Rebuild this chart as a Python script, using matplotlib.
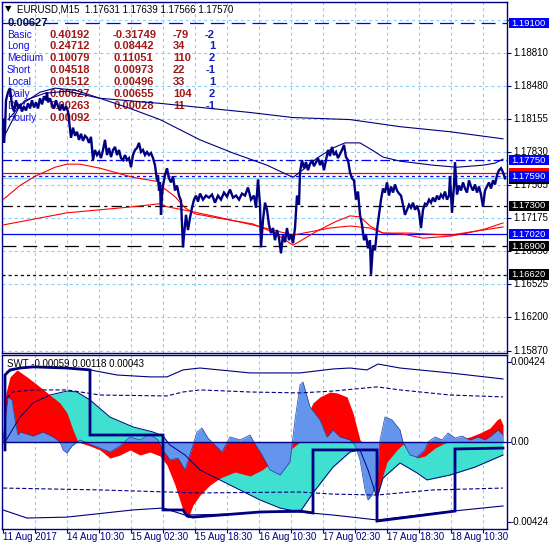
import numpy as np
import matplotlib
matplotlib.use('Agg')
import matplotlib.pyplot as plt
from matplotlib.patches import Rectangle
import matplotlib.transforms as mtransforms

plt.rcParams['font.family'] = ['Liberation Sans', 'DejaVu Sans']
plt.rcParams['lines.scale_dashes'] = False

NAVY = '#000080'
GRID = '#87CEFA'
BLUE = '#0000FF'
LABEL_BLUE = '#1010E0'
NUM_RED = '#A01818'

# ---------------- data ----------------
BASE = 1.17000  # price = BASE + pips / 10000
price_path = [(0,115),(1,92),(2,105),(3,134),(5,142),(7,146),(9,129),(11,123),(13,134),(15,126),(17,130),(19,123),
    (21,128),(23,124),(25,131),(27,126),(29,134),(31,127),(33,132),(35,126),(37,136),(39,130),(41,138),(43,134),(44,142),
    (45,132),(47,136),(49,130),(51,126),(53,134),(55,128),(57,124),(59,130),(61,124),(63,128),(65,123),(67,105),(68,97),
    (70,107),(72,99),(74,103),(76,95),(78,101),(80,94),(82,99),(84,97),(86,92),(88,98),(90,75),(92,85),(94,80),(96,83),
    (98,77),(100,85),(102,95),(104,80),(106,87),(108,78),(110,85),(112,88),(114,80),(116,85),(118,77),(120,75),(122,80),
    (124,75),(126,77),(128,68),(130,80),(132,85),(134,87),(136,92),(138,83),(140,85),(142,80),(144,83),(146,80),(148,82),
    (150,77),(152,70),(154,55),(155,60),(156,45),(157,53),(158,21),(159,40),(160,50),(162,60),(164,67),(166,57),(168,53),
    (170,59),(172,45),(174,50),(176,40),(178,35),(180,-11),(181,1),(183,21),(185,6),(187,18),(189,28),(191,36),(193,40),
    (195,34),(197,42),(200,36),(203,40),(206,38),(209,41),(212,33),(215,40),(218,36),(221,43),(224,39),(227,46),(230,38),
    (233,40),(236,36),(239,42),(242,40),(245,48),(248,36),(251,40),(253,28),(255,56),(257,31),(258,-11),(260,16),(262,33),
    (264,26),(266,11),(268,3),(270,8),(272,-4),(274,6),(276,-2),(278,-17),(280,1),(282,-6),(284,8),(286,-4),(288,2),
    (290,-7),(292,8),(294,40),(296,31),(297,63),(299,75),(301,67),(303,73),(305,65),(307,71),(309,75),(311,69),(313,73),
    (315,77),(317,70),(319,75),(321,65),(323,75),(325,85),(327,79),(329,88),(331,80),(333,83),(335,77),(337,81),(339,85),
    (341,90),(343,78),(345,75),(347,63),(349,57),(351,55),(353,36),(355,44),(357,21),(359,11),(361,-4),(363,1),(365,-12),
    (367,-4),(368,-38),(370,-9),(372,-14),(374,6),(376,21),(378,36),(380,47),(382,43),(384,53),(386,40),(388,49),(390,43),
    (392,51),(394,45),(396,42),(398,40),(400,31),(402,21),(404,26),(406,31),(408,28),(410,33),(412,26),(414,30),(416,24),
    (418,8),(420,26),(422,32),(424,31),(426,36),(428,33),(430,38),(432,34),(434,40),(436,36),(438,41),(440,38),(442,44),
    (444,36),(446,40),(447,59),(449,23),(451,50),(452,73),(454,41),(456,50),(458,45),(460,53),(462,47),(464,43),(466,55),
    (468,49),(470,45),(472,51),(474,43),(476,49),(478,41),(480,29),(482,45),(484,49),(486,53),(488,47),(490,55),(492,51),
    (494,60),(496,65),(498,67),(500,63),(502,57)]

ma_navy_slow = [(5,115),(22,134),(42,141),(64,143),(97,136),(157,131),(197,127),(247,122),(290,117),(347,115),
    (397,108),(447,103),(500,96)]
ma_navy_mid = [(2,100),(17,129),(37,142),(52,146),(72,144),(97,136),(127,126),(157,115),(197,95),(230,82),(264,70),
    (290,58),(302,67),(314,77),(330,87),(342,92),(357,92),(369,85),(380,78),(397,74),(430,70),(454,68),(480,70),
    (492,72),(500,76)]
ma_red_fast = [(0,36),(17,50),(32,59),(52,68),(64,71),(77,71),(97,67),(130,58),(154,54),(160,48),(172,39),(182,28),
    (192,22),(214,18),(250,12),(272,3),(290,-9),(302,-2),(314,5),(332,14),(347,20),(357,19),(367,10),(380,3),(400,2),
    (420,-2),(447,0),(464,3),(482,7),(500,13)]
ma_red_slow = [(0,11),(64,23),(130,29),(157,32),(164,29),(180,26),(214,19),(250,11),(290,1),(327,8),(347,10),
    (367,8),(380,3),(407,3),(447,1),(480,6),(500,9)]

price_grid = [1.15870, 1.16200, 1.16525, 1.16850, 1.17175, 1.17505, 1.17830, 1.18155, 1.18480, 1.18810, 1.19135]
grid_labels = ['1.15870', '1.16200', '1.16525', '1.16850', '1.17175', '1.17505', '1.17830', '1.18155', '1.18480',
               '1.18810', '']

# horizontal price objects: (price, colour, style)
hlines = [(1.19100, BLUE, (0, (10, 5))), (1.17750, BLUE, (0, (7, 2.2, 2.2, 2.2))), (1.17620, '#FF0000', '-'),
          (1.17590, BLUE, (0, (2.2, 2.2))), (1.17570, GRID, '-'), (1.17300, 'black', (0, (7.5, 3, 2.2, 3))),
          (1.17020, BLUE, '-'), (1.16900, 'black', (0, (10, 5))), (1.16620, 'black', (0, (2.2, 2.2)))]
# price boxes: (price, face colour, text), drawn in this order; covered boxes carry no visible text
price_boxes = [(1.19100, BLUE, '1.19100'), (1.17750, BLUE, '1.17750'), (1.17620, '#FF0000', ''),
               (1.17570, 'black', ''), (1.17590, BLUE, '1.17590'), (1.17300, 'black', '1.17300'),
               (1.17020, BLUE, '1.17020'), (1.16900, 'black', '1.16900'), (1.16620, 'black', '1.16620')]

# indicator panel, values in 1e-5
swt_slow = [(2,0),(17,132),(30,207),(47,249),(64,270),(74,265),(87,223),(107,132),(130,80),(150,53),(160,32),
    (167,-16),(182,-69),(197,-148),(227,-228),(257,-307),(277,-350),(297,-371),(310,-270),(330,-133),(347,-53),
    (357,-42),(365,-148),(374,-297),(380,-191),(397,-111),(414,-164),(424,-201),(447,-175),(472,-133),(500,-69)]
swt_fast = [(0,0),(2,239),(7,345),(14,382),(24,345),(37,292),(47,249),(57,207),(64,154),(70,64),(75,0),(87,-21),
    (97,-42),(107,-85),(117,-69),(127,-42),(137,-69),(147,-53),(157,-74),(164,-122),(172,-228),(180,-361),(185,-403),
    (190,-334),(197,-281),(207,-228),(217,-191),(232,-159),(247,-180),(259,-148),(272,-95),(287,-42),(297,0),(304,143),
    (310,207),(317,239),(327,265),(334,260),(344,239),(350,154),(357,11),(364,-27),(370,-148),(374,-307),(377,-228),
    (384,-106),(394,-42),(400,-11),(407,-53),(414,-85),(422,-74),(432,-32),(442,-5),(454,11),(467,27),(477,48),
    (487,74),(494,117),(497,127),(500,90)]
swt_hist = [(0,0),(2,117),(5,239),(9,223),(12,117),(15,37),(17,53),(24,42),(30,32),(40,53),(50,27),(57,0),(60,-42),
    (64,-58),(69,-21),(77,11),(87,-11),(97,-32),(107,-53),(117,-21),(127,27),(137,11),(147,42),(155,11),(160,-42),
    (167,-95),(175,-85),(182,-148),(189,-32),(194,53),(199,74),(205,21),(212,-16),(219,-53),(227,27),(237,11),(247,37),
    (252,-11),(259,-69),(267,-148),(277,-175),(287,-106),(292,117),(297,302),(300,318),(307,186),(317,117),(324,27),
    (330,64),(337,27),(347,11),(352,-16),(357,-95),(362,-254),(365,-307),(369,-281),(374,-201),(377,11),(382,133),
    (389,117),(397,64),(400,0),(407,-69),(414,-80),(422,-42),(425,0),(432,27),(439,11),(445,48),(452,21),(459,32),
    (467,11),(475,27),(482,11),(489,37),(495,64),(500,37)]
env_upper = [(4,371),(17,392),(30,398),(64,392),(87,382),(114,355),(147,345),(164,345),(180,382),(197,392),(247,366),
    (297,366),(330,387),(347,392),(364,382),(375,413),(397,392),(447,366),(500,334)]
env_upper_in = [(4,233),(10,265),(30,276),(64,276),(97,249),(164,244),(180,265),(197,276),(247,265),(297,260),
    (330,270),(374,292),(397,276),(447,249),(500,239)]
env_lower_in = [(0,-244),(97,-254),(197,-270),(297,-265),(330,-276),(374,-281),(430,-254),(500,-244)]
env_lower = [(0,-360),(24,-403),(64,-398),(130,-360),(160,-350),(182,-387),(230,-382),(257,-371),(297,-371),
    (330,-387),(374,-413),(450,-366),(500,-339)]
swt_state = [(2,-42),(2,355),(7,382),(17,392),(30,398),(64,392),(87,382),(87,37),(160,37),(160,-360),(180,-360),
    (184,-392),(190,-398),(230,-382),(257,-371),(297,-366),(310,-376),(310,-42),(374,-42),(374,-419),(452,-366),
    (452,-37),(500,-32)]

time_ticks = [0, 64, 128, 192, 256, 320, 384, 448]
time_labels = ['11 Aug 2017', '14 Aug 10:30', '15 Aug 02:30', '15 Aug 18:30', '16 Aug 10:30', '17 Aug 02:30',
               '17 Aug 18:30', '18 Aug 10:30']

row_names = ['Basic', 'Long', 'Medium', 'Short', 'Local', 'Daily', 'Day', 'Hourly']
col1 = ['0.40192', '0.24712', '0.10079', '0.04518', '0.01512', '0.00627', '0.00263', '0.00092']
col2 = ['-0.31749', '0.08442', '0.11051', '0.00973', '0.00496', '0.00655', '0.00028', '']
col3 = ['-79', '34', '110', '22', '33', '104', '11', '']
col4 = ['-2', '1', '2', '-1', '1', '2', '-1', '']


def unzip(pairs, scale=1.0, offset=0.0):
    a = np.array(pairs, dtype=float)
    return a[:, 0], offset + a[:, 1] * scale

# ---------------- figure ----------------
W = H = 550
fig = plt.figure(figsize=(5.5, 5.5), dpi=100, facecolor='white')


def fig_rect(l, t, r, b):
    return [l / W, 1 - b / H, (r - l) / W, (b - t) / H]


def P(x, y):
    return (x / W, 1 - y / H)

ax = fig.add_axes(fig_rect(2, 2, 507, 353))
axs = fig.add_axes(fig_rect(2, 355, 507, 529))

for a in (ax, axs):
    a.set_facecolor('white')
    a.set_xlim(-1, 504)
    for s in a.spines.values():
        s.set_color(NAVY)
        s.set_linewidth(1.0)
    for gx in range(32, 481, 32):
        a.axvline(gx, color=GRID, lw=0.8, ls=(0, (2.2, 2.2)), zorder=0.5)

ax.set_ylim(1.15847, 1.19310)
axs.set_ylim(-0.00461, 0.00461)

# main grid
for g in price_grid:
    ax.axhline(g, color=GRID, lw=0.8, ls=(0, (2.2, 2.2)), zorder=0.5)

ax.set_xticks([])
ax.set_yticks(price_grid)
ax.tick_params(axis='y', left=False, right=True, labelleft=False, labelright=False, direction='out', length=3,
               width=0.8, colors=NAVY)

blend = mtransforms.blended_transform_factory(ax.transAxes, ax.transData)
for g, lab in zip(price_grid, grid_labels):
    if lab:
        ax.text((513 - 2) / 505, g, lab, transform=blend, fontsize=7, va='center', ha='left', color='black',
                clip_on=False, zorder=3)

# horizontal objects
for yv, col, st in hlines:
    ax.axhline(yv, color=col, lw=0.9, ls=st, zorder=2)

# moving averages
for pairs, col in ((ma_navy_slow, NAVY), (ma_navy_mid, NAVY), (ma_red_fast, '#FF0000'), (ma_red_slow, '#FF0000')):
    x, y = unzip(pairs, 1e-4, BASE)
    ax.plot(x, y, color=col, lw=0.8, zorder=3)

# price
px, py = unzip(price_path, 1e-4, BASE)
ax.plot(px, py, color=NAVY, lw=1.7, zorder=4, solid_joinstyle='miter')

# right-side price boxes
box_h = 0.00102
for yv, fc, txt in price_boxes:
    ax.add_patch(Rectangle(((509 - 2) / 505, yv - box_h / 2), 40 / 505, box_h, transform=blend, facecolor=fc,
                           edgecolor='none', clip_on=False, zorder=6))
    if txt:
        ax.text((511.5 - 2) / 505, yv, txt, transform=blend, fontsize=6.8, va='center', ha='left', color='white',
                clip_on=False, zorder=7)

# header and table (drawn below lines)
ax.text(*P(5, 9), '\u25bc', transform=fig.transFigure, fontsize=6, va='center', ha='left', color='black', zorder=1,
        family=['DejaVu Sans'])
ax.text(*P(17, 9), 'EURUSD,M15  1.17631 1.17639 1.17566 1.17570', transform=fig.transFigure, fontsize=7,
        va='center', ha='left', color='black', zorder=1)
ax.text(*P(8, 23), '0.00627', transform=fig.transFigure, fontsize=8, fontweight='bold', va='center', ha='left',
        color='#10103a', zorder=1)
for k, name in enumerate(row_names):
    yy = 34.5 + 11.9 * k
    ax.text(*P(7, yy), name, transform=fig.transFigure, fontsize=7.3, va='center', ha='left', color=LABEL_BLUE,
            zorder=1)
    ax.text(*P(49, yy), col1[k], transform=fig.transFigure, fontsize=8, fontweight='bold', va='center', ha='left',
            color=NUM_RED, zorder=1)
    ax.text(*P(113, yy), col2[k], transform=fig.transFigure, fontsize=8, fontweight='bold', va='center', ha='left',
            color=NUM_RED, zorder=1)
    ax.text(*P(173, yy), col3[k], transform=fig.transFigure, fontsize=8, fontweight='bold', va='center', ha='left',
            color=NUM_RED, zorder=1)
    ax.text(*P(215, yy), col4[k], transform=fig.transFigure, fontsize=8, fontweight='bold', va='center',
            ha='right', color='#1020C0', zorder=1)

# ---------------- indicator panel ----------------
sx, sv = unzip(swt_slow, 1e-5)
fx, fv = unzip(swt_fast, 1e-5)
hx, hv = unzip(swt_hist, 1e-5)
axs.fill_between(sx, 0, sv, color='#40E0D0', lw=0, zorder=1)
axs.fill_between(fx, 0, fv, color='#FF0000', lw=0, zorder=2)
axs.fill_between(hx, 0, hv, color='#6495ED', lw=0, zorder=3)
axs.plot(hx, hv, color='#2040A0', lw=0.5, zorder=3.5)
axs.plot(sx, sv, color=NAVY, lw=0.7, zorder=4)
axs.axhline(0, color=NAVY, lw=1.0, zorder=4)
for pairs, st in ((env_upper, '-'), (env_lower, '-'), (env_upper_in, (0, (3, 1.6))), (env_lower_in, (0, (3, 1.6)))):
    x, v = unzip(pairs, 1e-5)
    axs.plot(x, v, color=NAVY, lw=0.8, ls=st, zorder=4)
stx, stv = unzip(swt_state, 1e-5)
axs.plot(stx, stv, color=NAVY, lw=2.0, zorder=5, solid_joinstyle='miter')

axs.text(*P(7, 364), 'SWT -0.00059 0.00118 0.00043', transform=fig.transFigure, fontsize=7, va='center',
         ha='left', color='black', zorder=6)

sub_ticks = [0.00424, 0.0, -0.00424]
sub_labels = ['0.00424', '0.00', '-0.00424']
axs.set_yticks(sub_ticks)
axs.tick_params(axis='y', left=False, right=True, labelleft=False, labelright=False, direction='out', length=3,
                width=0.8, colors=NAVY)
sblend = mtransforms.blended_transform_factory(axs.transAxes, axs.transData)
for v, lab in zip(sub_ticks, sub_labels):
    axs.text((511 - 2) / 505, v, lab, transform=sblend, fontsize=7, va='center', ha='left', color='black',
             clip_on=False)

axs.set_xticks(list(range(0, 481, 32)))
axs.set_xticklabels([])
axs.tick_params(axis='x', bottom=True, direction='out', length=3, width=0.8, colors=NAVY)
xblend = mtransforms.blended_transform_factory(axs.transData, axs.transAxes)
for t, lab in zip(time_ticks, time_labels):
    axs.text(t, (529 - 537.5) / 174, lab, transform=xblend, fontsize=7, va='center', ha='left', color=NAVY,
             clip_on=False)

fig.savefig('out.png', dpi=100, facecolor='white')
